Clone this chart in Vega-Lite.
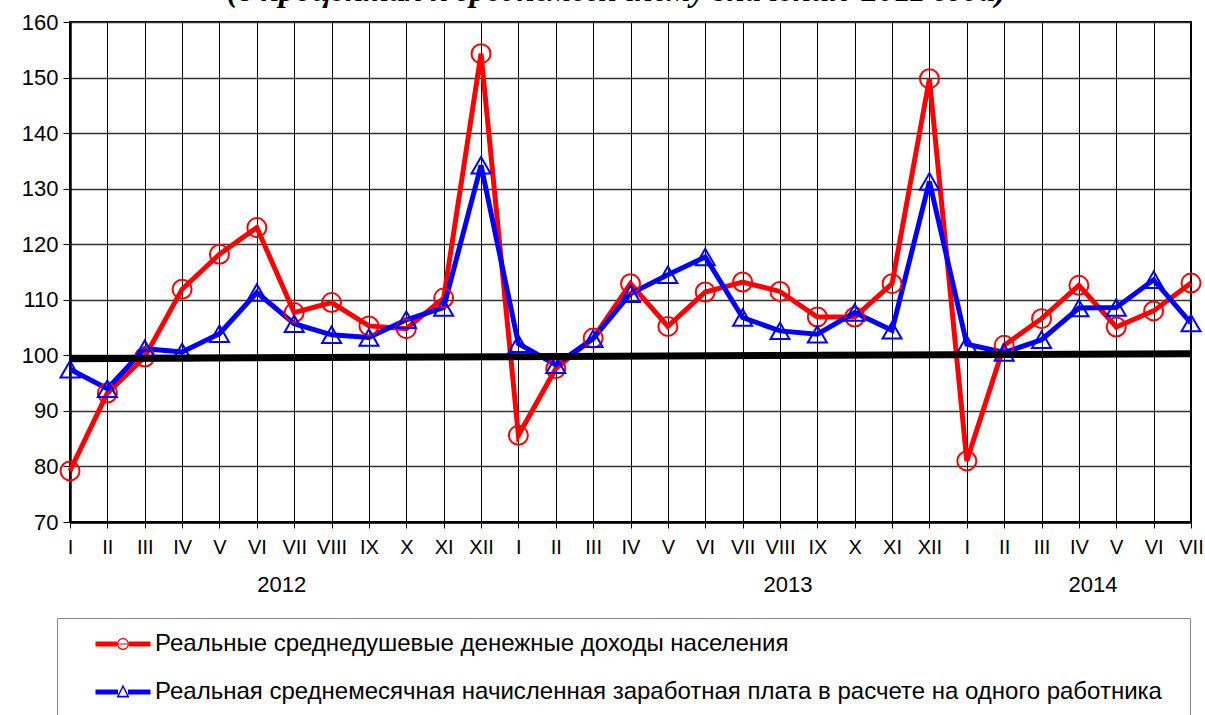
{
  "$schema": "https://vega.github.io/schema/vega-lite/v6.json",
  "width": 1121,
  "height": 500,
  "autosize": {"type": "none"},
  "padding": {"left": 70, "top": 22, "right": 14, "bottom": 193},
  "background": "white",
  "title": {
    "text": "(в процентах к среднемесячному значению 2011 года)",
    "font": "Liberation Serif",
    "fontStyle": "italic",
    "fontWeight": "bold",
    "fontSize": 33,
    "color": "black",
    "anchor": "middle",
    "baseline": "alphabetic",
    "offset": 0,
    "dy": 23,
    "dx": -14
  },
  "config": {
    "view": {"stroke": "black", "strokeWidth": 2},
    "axis": {"labelFont": "Liberation Sans", "labelColor": "black", "tickColor": "black", "domainColor": "black"}
  },
  "datasets": {
    "series": [
      {"key": "I 2012", "s": "income", "v": 79.2}, {"key": "II 2012", "s": "income", "v": 93.2}, {"key": "III 2012", "s": "income", "v": 99.7},
      {"key": "IV 2012", "s": "income", "v": 111.9}, {"key": "V 2012", "s": "income", "v": 118.2}, {"key": "VI 2012", "s": "income", "v": 123.0},
      {"key": "VII 2012", "s": "income", "v": 107.7}, {"key": "VIII 2012", "s": "income", "v": 109.5}, {"key": "IX 2012", "s": "income", "v": 105.3},
      {"key": "X 2012", "s": "income", "v": 104.8}, {"key": "XI 2012", "s": "income", "v": 110.3}, {"key": "XII 2012", "s": "income", "v": 154.3},
      {"key": "I 2013", "s": "income", "v": 85.6}, {"key": "II 2013", "s": "income", "v": 97.6}, {"key": "III 2013", "s": "income", "v": 103.1},
      {"key": "IV 2013", "s": "income", "v": 112.9}, {"key": "V 2013", "s": "income", "v": 105.2}, {"key": "VI 2013", "s": "income", "v": 111.4},
      {"key": "VII 2013", "s": "income", "v": 113.2}, {"key": "VIII 2013", "s": "income", "v": 111.5}, {"key": "IX 2013", "s": "income", "v": 106.9},
      {"key": "X 2013", "s": "income", "v": 106.9}, {"key": "XI 2013", "s": "income", "v": 112.9}, {"key": "XII 2013", "s": "income", "v": 149.8},
      {"key": "I 2014", "s": "income", "v": 81.0}, {"key": "II 2014", "s": "income", "v": 101.8}, {"key": "III 2014", "s": "income", "v": 106.6},
      {"key": "IV 2014", "s": "income", "v": 112.6}, {"key": "V 2014", "s": "income", "v": 105.1}, {"key": "VI 2014", "s": "income", "v": 108.0},
      {"key": "VII 2014", "s": "income", "v": 113.0},
      {"key": "I 2012", "s": "wage", "v": 97.5}, {"key": "II 2012", "s": "wage", "v": 94.0}, {"key": "III 2012", "s": "wage", "v": 101.2},
      {"key": "IV 2012", "s": "wage", "v": 100.6}, {"key": "V 2012", "s": "wage", "v": 103.9}, {"key": "VI 2012", "s": "wage", "v": 111.3},
      {"key": "VII 2012", "s": "wage", "v": 105.7}, {"key": "VIII 2012", "s": "wage", "v": 103.7}, {"key": "IX 2012", "s": "wage", "v": 103.2},
      {"key": "X 2012", "s": "wage", "v": 106.4}, {"key": "XI 2012", "s": "wage", "v": 108.6}, {"key": "XII 2012", "s": "wage", "v": 134.2},
      {"key": "I 2013", "s": "wage", "v": 102.1}, {"key": "II 2013", "s": "wage", "v": 98.3}, {"key": "III 2013", "s": "wage", "v": 103.0},
      {"key": "IV 2013", "s": "wage", "v": 111.1}, {"key": "V 2013", "s": "wage", "v": 114.5}, {"key": "VI 2013", "s": "wage", "v": 117.7},
      {"key": "VII 2013", "s": "wage", "v": 106.8}, {"key": "VIII 2013", "s": "wage", "v": 104.4}, {"key": "IX 2013", "s": "wage", "v": 103.8},
      {"key": "X 2013", "s": "wage", "v": 107.7}, {"key": "XI 2013", "s": "wage", "v": 104.5}, {"key": "XII 2013", "s": "wage", "v": 131.3},
      {"key": "I 2014", "s": "wage", "v": 102.0}, {"key": "II 2014", "s": "wage", "v": 100.5}, {"key": "III 2014", "s": "wage", "v": 102.8},
      {"key": "IV 2014", "s": "wage", "v": 108.5}, {"key": "V 2014", "s": "wage", "v": 108.6}, {"key": "VI 2014", "s": "wage", "v": 113.6},
      {"key": "VII 2014", "s": "wage", "v": 105.8}
    ],
    "trend": [
      {"key": "I 2012", "v": 99.4},
      {"key": "VII 2014", "v": 100.3}
    ]
  },
  "layer": [
    {
      "data": {"name": "series"},
      "mark": {"type": "line", "strokeWidth": 5},
      "encoding": {
        "x": {
          "field": "key", "type": "ordinal", "sort": null,
          "scale": {"type": "point", "padding": 0},
          "axis": {
            "title": null, "labelExpr": "split(datum.value, ' ')[0]", "labelAngle": 0,
            "labelOverlap": false, "labelBound": false, "labelFontSize": 20, "labelPadding": 9,
            "tickSize": 6, "tickWidth": 1, "domainWidth": 2.5,
            "grid": true, "gridColor": "black", "gridWidth": 1, "gridOpacity": 1
          }
        },
        "y": {
          "field": "v", "type": "quantitative",
          "scale": {"domain": [70, 160], "nice": false, "zero": false},
          "axis": {
            "title": null, "values": [70, 80, 90, 100, 110, 120, 130, 140, 150, 160],
            "labelFontSize": 22, "labelPadding": 5, "tickSize": 7, "tickWidth": 1,
            "domainWidth": 2.5, "grid": true, "gridColor": "#333333", "gridWidth": 1.3, "gridOpacity": 1
          }
        },
        "color": {
          "field": "s", "type": "nominal",
          "scale": {"domain": ["income", "wage"], "range": ["#ff0000", "#0000ff"]},
          "legend": {
            "title": null,
            "orient": "none", "legendX": -13, "legendY": 596,
            "direction": "vertical",
            "labelExpr": "datum.value === 'income' ? 'Реальные среднедушевые денежные доходы населения' : 'Реальная среднемесячная начисленная  заработная плата  в расчете на одного работника'",
            "labelFont": "Liberation Sans", "labelFontSize": 24, "labelColor": "black", "labelLimit": 1200,
            "symbolSize": 400, "symbolOffset": 40, "labelOffset": 20, "rowPadding": 24,
            "padding": 14, "strokeColor": "#888888", "fillColor": "white",
            "encode": {
              "symbols": {
                "update": {
                  "shape": {"signal": "datum.value === 'income' ? 'M-2.75,-0.25H-0.6V0.25H-2.75Z M0.6,-0.25H2.75V0.25H0.6Z M-0.6,0A0.6,0.6 0 1,1 0.6,0A0.6,0.6 0 1,1 -0.6,0Z M-0.47,0A0.47,0.47 0 1,0 0.47,0A0.47,0.47 0 1,0 -0.47,0Z M-0.47,-0.06H0.47V0.06H-0.47Z' : 'M-2.75,-0.25H-0.5V0.25H-2.75Z M0.5,-0.25H2.75V0.25H0.5Z M0,-0.75L0.65,0.55L-0.65,0.55Z M0,-0.42L-0.4,0.38L0.4,0.38Z'"},
                  "fill": {"signal": "datum.value === 'income' ? '#ff0000' : '#0000ff'"},
                  "stroke": {"value": "transparent"},
                  "strokeWidth": {"value": 0},
                  "opacity": {"value": 1}
                }
              }
            }
          }
        }
      }
    },
    {
      "data": {"name": "series"},
      "transform": [{"filter": "datum.s === 'income'"}],
      "mark": {"type": "point", "shape": "circle", "filled": false, "size": 361, "strokeWidth": 2, "opacity": 1},
      "encoding": {
        "x": {"field": "key", "type": "ordinal", "sort": null},
        "y": {"field": "v", "type": "quantitative"},
        "color": {"field": "s", "type": "nominal"}
      }
    },
    {
      "data": {"name": "series"},
      "transform": [{"filter": "datum.s === 'wage'"}],
      "mark": {"type": "point", "shape": "triangle-up", "filled": false, "size": 361, "strokeWidth": 2, "opacity": 1},
      "encoding": {
        "x": {"field": "key", "type": "ordinal", "sort": null},
        "y": {"field": "v", "type": "quantitative"},
        "color": {"field": "s", "type": "nominal"}
      }
    },
    {
      "data": {"name": "trend"},
      "mark": {"type": "line", "color": "black", "strokeWidth": 7},
      "encoding": {
        "x": {"field": "key", "type": "ordinal", "sort": null},
        "y": {"field": "v", "type": "quantitative"}
      }
    },
    {
      "data": {"values": [{"key": "VI 2012", "year": "2012"}]},
      "mark": {"type": "text", "font": "Liberation Sans", "fontSize": 22, "color": "black", "baseline": "middle", "dx": 25},
      "encoding": {
        "x": {"field": "key", "type": "ordinal", "sort": null},
        "y": {"datum": 58.7, "type": "quantitative"},
        "text": {"field": "year"}
      }
    },
    {
      "data": {"values": [{"key": "VIII 2013", "year": "2013"}]},
      "mark": {"type": "text", "font": "Liberation Sans", "fontSize": 22, "color": "black", "baseline": "middle", "dx": 8},
      "encoding": {
        "x": {"field": "key", "type": "ordinal", "sort": null},
        "y": {"datum": 58.7, "type": "quantitative"},
        "text": {"field": "year"}
      }
    },
    {
      "data": {"values": [{"key": "IV 2014", "year": "2014"}]},
      "mark": {"type": "text", "font": "Liberation Sans", "fontSize": 22, "color": "black", "baseline": "middle", "dx": 14},
      "encoding": {
        "x": {"field": "key", "type": "ordinal", "sort": null},
        "y": {"datum": 58.7, "type": "quantitative"},
        "text": {"field": "year"}
      }
    }
  ]
}
